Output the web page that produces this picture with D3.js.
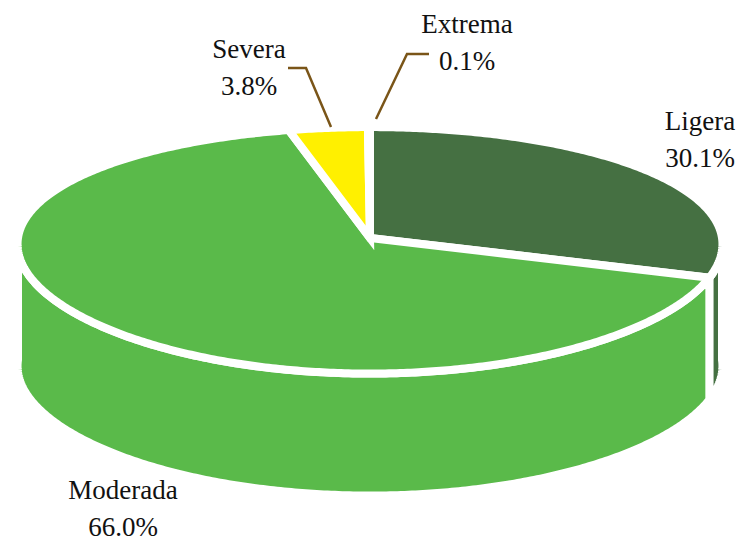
<!DOCTYPE html>
<html><head><meta charset="utf-8">
<script src="https://cdn.jsdelivr.net/npm/d3@7"></script>
<style>html,body{margin:0;background:#fff}svg{display:block}text{font-family:"Liberation Serif",serif;font-size:27px;fill:#111;text-anchor:middle}</style>
</head><body><svg width="736" height="537"></svg>
<script>
const categories = ["Ligera","Moderada","Severa","Extrema"];
const values = [30.1,66.0,3.8,0.1];
const labels = ["30.1%","66.0%","3.8%","0.1%"];
const colors = ["#457042","#5aba4a","#fff000","#fff000"];
const labelPos = [[700,130],[123,499],[249,58],[467,33]];
const leaders = [null,null,[[288,68],[306,68],[331,127]],[[429,54],[407,54],[376,119]]];

const W=736,H=537, cx=370, cy=238, rx=352, ry=122, p=0.1, k=0.05, depth=122, gap=8;
const svg=d3.select("svg");
const arcs=d3.pie().sort(null).value(d=>d)(values);
const proj=t=>{const s=Math.sin(t),c=Math.cos(t);
  return [cx+rx*s*(1-k*c), cy-ry*c/(1+p*c)];};
const samples=(a,b)=>{const n=Math.max(2,Math.ceil((b-a)/0.01));return d3.range(n+1).map(i=>a+(b-a)*i/n);};
const line=d3.line();
const styled=s=>s.attr("stroke","#fff").attr("stroke-width",gap).attr("stroke-linejoin","miter");

// side wall: the front half of the rim extruded downwards
const front0=Math.PI/2, front1=Math.PI*1.5;
arcs.forEach((d,i)=>{
  const a=Math.max(d.startAngle,front0), b=Math.min(d.endAngle,front1);
  if(b<=a) return;
  const top=samples(a,b).map(proj);
  const bot=top.map(q=>[q[0],q[1]+depth]).reverse();
  svg.append("path").attr("d",line(top.concat(bot))+"Z").attr("fill",colors[i]).call(styled);
});
// top face
arcs.forEach((d,i)=>{
  const pts=[[cx,cy]].concat(samples(d.startAngle,d.endAngle).map(proj));
  svg.append("path").attr("d",line(pts)+"Z").attr("fill",colors[i]).call(styled);
});
// leaders
leaders.forEach(l=>{ if(l) svg.append("path").attr("d",line(l)).attr("fill","none").attr("stroke","#7a5518").attr("stroke-width",2.5);});
// labels
categories.forEach((c,i)=>{
  const [x,y]=labelPos[i];
  svg.append("text").attr("x",x).attr("y",y).text(c);
  svg.append("text").attr("x",x).attr("y",y+37).text(labels[i]);
});
</script></body></html>
